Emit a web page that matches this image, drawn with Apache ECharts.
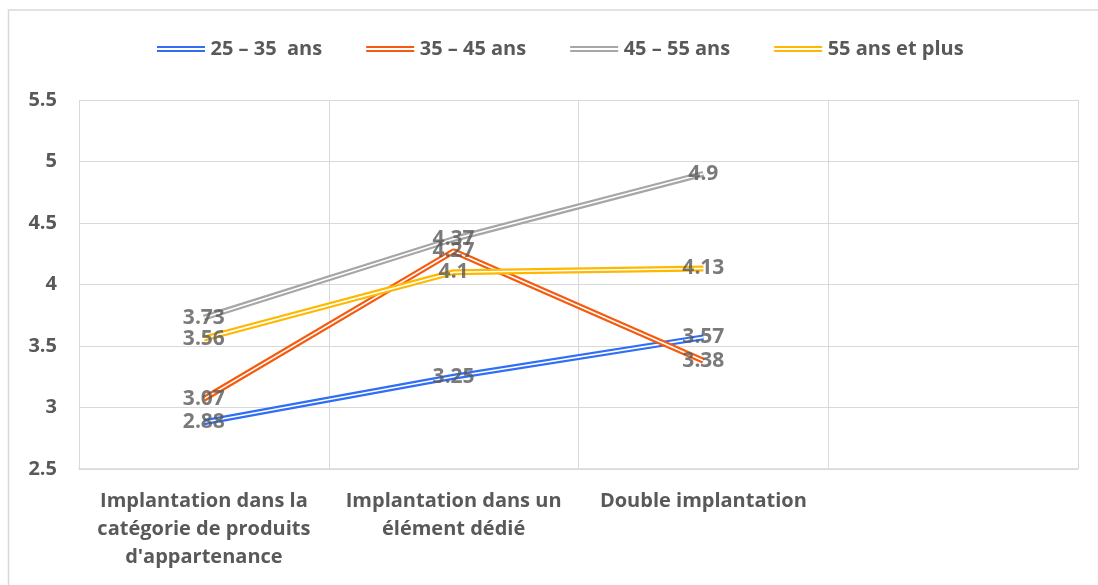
<!DOCTYPE html>
<html>
<head>
<meta charset="utf-8">
<script src="https://cdn.jsdelivr.net/npm/echarts@6/dist/echarts.min.js"></script>
<style>
  html, body { margin: 0; padding: 0; background: #ffffff; }
  #chart { width: 1098px; height: 585px; }
</style>
</head>
<body>
<div id="chart"></div>
<script>
// Categories along the x axis (the fourth slot is left empty)
const categories = [
  "Implantation dans la\ncatégorie de produits\nd'appartenance",
  "Implantation dans un\nélément dédié",
  "Double implantation",
  ""
];
const seriesNames = ["25 – 35  ans", "35 – 45 ans", "45 – 55 ans", "55 ans et plus"];
const age25to35 = [2.88, 3.25, 3.57];
const age35to45 = [3.07, 4.27, 3.38];
const age45to55 = [3.73, 4.37, 4.9];
const age55plus = [3.56, 4.1, 4.13];
const seriesValues = [age25to35, age35to45, age45to55, age55plus];
const colors = ["#2f6ef5", "#f55a0d", "#a6a6a6", "#ffb800"];

const FONT = "'Open Sans'";
const TEXT = "#595959";
const GRID = "#d9d9d9";

// Double-line look: a wide coloured stroke with a thin white stroke on top
const lineSeries = [];
seriesValues.forEach((vals, i) => {
  lineSeries.push({
    name: seriesNames[i],
    type: "line",
    data: vals,
    symbol: "none",
    color: colors[i],
    lineStyle: { width: 6, color: colors[i], cap: "butt" },
    z: 2,
    silent: true
  });
  lineSeries.push({
    name: "inner-" + i,
    type: "line",
    data: vals,
    symbol: "none",
    lineStyle: { width: 1.6, color: "#ffffff", cap: "butt" },
    z: 2,
    silent: true
  });
});

// Value labels drawn above all lines
const labelSeries = seriesValues.map((vals, i) => ({
  name: "label-" + i,
  type: "scatter",
  data: vals,
  symbolSize: 0,
  z: 10,
  silent: true,
  label: {
    show: true,
    position: "inside",
    color: TEXT,
    fontFamily: FONT,
    fontWeight: "bold",
    fontSize: 21,
    formatter: p => String(p.value)
  }
}));

const doubleIcon = "path://M0,0H48V2H0Z M0,4H48V6H0Z";

const chart = echarts.init(document.getElementById("chart"), null, { renderer: "canvas" });
chart.setOption({
  animation: false,
  backgroundColor: "#ffffff",
  graphic: [{
    type: "rect",
    shape: { x: 8.5, y: 10, width: 1200, height: 1000 },
    style: { fill: "none", stroke: "#d9d9d9", lineWidth: 1.5 },
    silent: true
  }],
  legend: {
    top: 34,
    left: 152,
    data: seriesNames.map(n => ({ name: n, icon: doubleIcon })),
    itemWidth: 49,
    itemHeight: 6,
    itemGap: 44,
    textStyle: { color: TEXT, fontFamily: FONT, fontWeight: "bold", fontSize: 20 }
  },
  grid: { left: 79, right: 20, top: 100, bottom: 116, containLabel: false },
  xAxis: {
    type: "category",
    data: categories,
    boundaryGap: true,
    axisLine: { show: true, lineStyle: { color: GRID, width: 1.5 } },
    axisTick: { show: false },
    splitLine: { show: true, lineStyle: { color: GRID, width: 1 } },
    axisLabel: {
      interval: 0,
      margin: 18,
      color: TEXT,
      fontFamily: FONT,
      fontWeight: "bold",
      fontSize: 20,
      lineHeight: 28,
      align: "center"
    }
  },
  yAxis: {
    type: "value",
    min: 2.5,
    max: 5.5,
    interval: 0.5,
    axisLine: { show: false },
    axisTick: { show: false },
    splitLine: { show: true, lineStyle: { color: GRID, width: 1 } },
    axisLabel: {
      margin: 22,
      color: TEXT,
      fontFamily: FONT,
      fontWeight: "bold",
      fontSize: 20,
      formatter: v => String(v)
    }
  },
  series: lineSeries.concat(labelSeries)
});
</script>
</body>
</html>
